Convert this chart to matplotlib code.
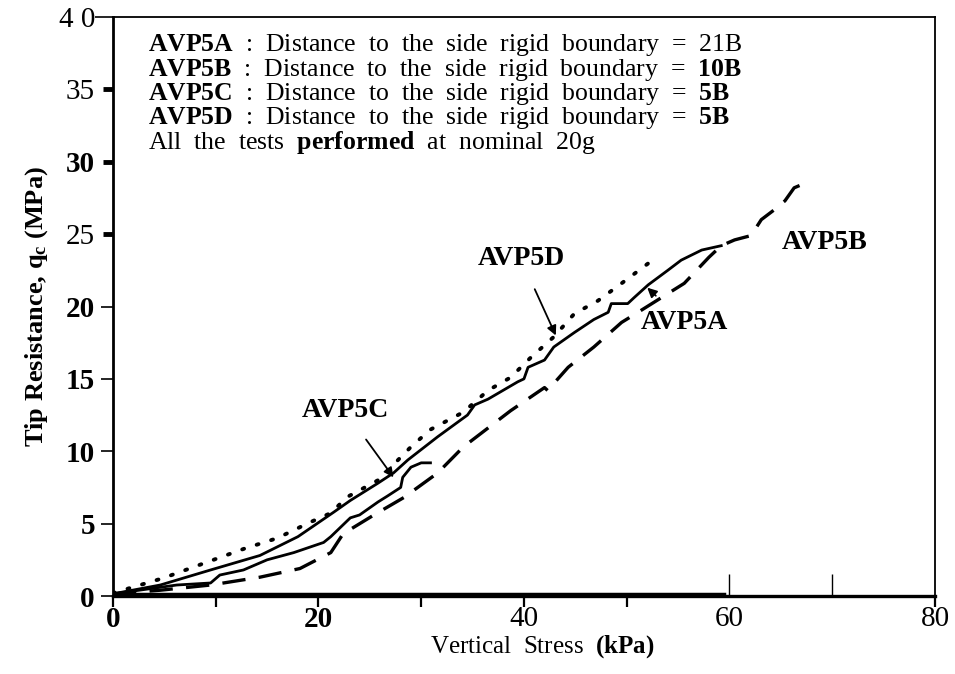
import numpy as np
import matplotlib.pyplot as plt

plt.rcParams['font.family'] = ['Liberation Serif', 'DejaVu Serif']
plt.rcParams['mathtext.fontset'] = 'custom'
plt.rcParams['mathtext.rm'] = 'Liberation Serif'
plt.rcParams['mathtext.it'] = 'Liberation Serif:italic'
plt.rcParams['mathtext.bf'] = 'Liberation Serif:bold'

# test curves (vertical stress kPa, tip resistance MPa)
avp5a_x = [0, 4.6, 9.5, 14.3, 18.0, 21.5, 23.1, 25.8, 27.3, 28.7, 31.6, 34.5, 35.2,
           36.5, 39.4, 40.0, 40.4, 42.0, 42.9, 44.9, 46.8, 48.2, 48.5, 50.1, 50.7,
           52.1, 54.0, 55.3, 57.3, 59.2]
avp5a_y = [0.15, 0.76, 1.8, 2.8, 4.1, 5.8, 6.6, 7.8, 8.5, 9.4, 11.0, 12.5, 13.2,
           13.6, 14.8, 15.0, 15.8, 16.3, 17.2, 18.2, 19.1, 19.6, 20.2, 20.2, 20.6,
           21.5, 22.5, 23.2, 23.9, 24.2]

avp5b_x = [0, 4.6, 9.5, 14.3, 18.2, 21.2, 22.4, 25.4, 28.3, 31.6, 34.1, 38.7, 42.0,
           42.3, 44.3, 46.8, 49.5, 51.1, 55.6, 58.0, 59.2, 60.5, 62.1, 63.1, 64.4,
           65.4, 66.3, 67.3]
avp5b_y = [0.15, 0.4, 0.76, 1.3, 1.9, 3.0, 4.3, 5.6, 6.8, 8.5, 10.3, 12.8, 14.4,
           14.2, 15.8, 17.2, 18.9, 19.6, 21.6, 23.4, 24.2, 24.6, 24.9, 26.0, 26.7,
           27.3, 28.2, 28.5]

avp5c_x = [0, 6.2, 9.5, 10.4, 12.7, 15.0, 17.6, 20.5, 21.2, 23.1, 24.0, 25.8, 26.7,
           28.0, 28.2, 29.0, 30.0, 30.9]
avp5c_y = [0.15, 0.76, 0.9, 1.45, 1.8, 2.5, 3.0, 3.7, 4.1, 5.4, 5.6, 6.5, 6.9,
           7.5, 8.2, 8.9, 9.2, 9.2]

avp5d_x = [0, 4.9, 9.2, 12.7, 16.0, 19.2, 21.2, 22.8, 25.8, 29.0, 30.9, 34.1, 36.5,
           38.7, 40.7, 42.9, 44.9, 47.2, 49.5, 52.7]
avp5d_y = [0.2, 1.24, 2.35, 3.25, 4.0, 5.1, 5.73, 6.84, 8.0, 10.3, 11.5, 12.7, 14.2,
           15.1, 16.5, 17.9, 19.5, 20.4, 21.6, 23.3]

baseline_x = [0, 59.5]
baseline_y = [0.12, 0.12]

legend_lines = [
    r'$\mathbf{AVP5A}$  :  Distance  to  the  side  rigid  boundary  =  21B',
    r'$\mathbf{AVP5B}$  :  Distance  to  the  side  rigid  boundary  =  $\mathbf{10B}$',
    r'$\mathbf{AVP5C}$  :  Distance  to  the  side  rigid  boundary  =  $\mathbf{5B}$',
    r'$\mathbf{AVP5D}$  :  Distance  to  the  side  rigid  boundary  =  $\mathbf{5B}$',
    r'All  the  tests  $\mathbf{performed}$  at  nominal  20g',
]

fig = plt.figure(figsize=(9.55, 6.74), dpi=100)
ax = fig.add_axes([0.1183, 0.1157, 0.8607, 0.8591])

ax.plot(avp5a_x, avp5a_y, color='black', lw=2.0)
ax.plot(avp5b_x, avp5b_y, color='black', lw=2.4, linestyle=(0, (7, 4)))
ax.plot(avp5c_x, avp5c_y, color='black', lw=2.0)
ax.plot(avp5d_x, avp5d_y, color='black', lw=2.8, linestyle=(0, (0.5, 3.4)),
        dash_capstyle='round')
ax.plot(baseline_x, baseline_y, color='black', lw=2.5)

ax.set_xlim(0, 80)
ax.set_ylim(0, 40)

# x ticks: most point outward, 60 and 70 point inward
ax.set_xticks([0, 10, 20, 30, 40, 50, 80])
ax.set_xticklabels(['0', '', '20', '', '40', '', '80'])
ax.set_xticks([60, 70], minor=True)
ax.set_xticklabels(['60', ''], minor=True)
ax.tick_params(axis='x', which='major', direction='out', length=8, width=1.6,
               labelsize=21, pad=-1)
ax.tick_params(axis='x', which='minor', direction='in', length=16, width=1.0,
               labelsize=21, pad=7)

ax.set_yticks([0, 5, 10, 15, 20, 25, 30, 35, 40])
ax.set_yticklabels(['0', '5', '10', '15', '20', '25', '30', '35', '4 0'])
ax.tick_params(axis='y', which='major', direction='out', length=9, width=1.2,
               labelsize=21, pad=4)
ax.yaxis.set_minor_locator(plt.NullLocator())

for t, lab in zip(ax.yaxis.get_major_ticks(), ax.get_yticklabels()):
    v = t.get_loc()
    if v in (0, 5, 10, 15, 20, 30):
        lab.set_fontweight('bold')
    if v in (25, 30, 35):
        t.tick1line.set_markeredgewidth(3.5)
        t.tick1line.set_markersize(7)
    if v == 40:
        t.tick1line.set_markersize(13)
for lab in ax.get_xticklabels():
    if lab.get_text() in ('0', '20'):
        lab.set_fontweight('bold')

ax.spines['left'].set_linewidth(2.0)
ax.spines['bottom'].set_linewidth(2.4)
ax.spines['top'].set_linewidth(1.3)
ax.spines['right'].set_linewidth(1.3)

ax.set_ylabel(r'Tip Resistance, q$_\mathbf{c}$ (MPa)', fontsize=19,
              fontweight='bold', labelpad=6)
ax.set_xlabel(r'Vertical  Stress  $\mathbf{(kPa)}$', fontsize=18)
ax.xaxis.set_label_coords(0.522, -0.064)

for i, line in enumerate(legend_lines):
    ax.text(0.043, 0.951 - i * 0.0418, line, transform=ax.transAxes,
            fontsize=18.5, va='center', ha='left')

ax.text(69.3, 24.4, 'AVP5B', fontsize=20, fontweight='bold', va='center', ha='center')
ax.annotate('AVP5D', xy=(43.1, 18.0), xytext=(39.7, 23.3), fontsize=20,
            fontweight='bold', ha='center', va='center',
            arrowprops=dict(arrowstyle='-|>', color='black', lw=1.3,
                            mutation_scale=14, shrinkA=12, shrinkB=0))
ax.annotate('AVP5A', xy=(52.0, 21.3), xytext=(55.6, 18.9), fontsize=20,
            fontweight='bold', ha='center', va='center',
            arrowprops=dict(arrowstyle='-|>', color='black', lw=1.3,
                            mutation_scale=14, shrinkA=12, shrinkB=0))
ax.annotate('AVP5C', xy=(27.3, 8.2), xytext=(22.6, 12.8), fontsize=20,
            fontweight='bold', ha='center', va='center',
            arrowprops=dict(arrowstyle='-|>', color='black', lw=1.3,
                            mutation_scale=14, shrinkA=12, shrinkB=0))

fig.savefig('out.png', dpi=100)
